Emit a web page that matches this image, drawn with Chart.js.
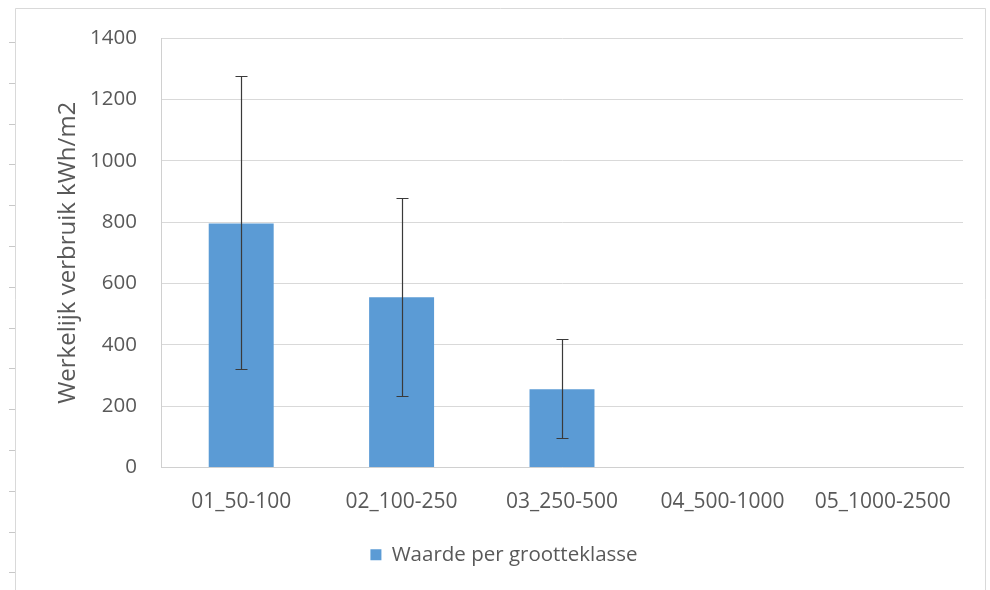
<!DOCTYPE html>
<html><head><meta charset="utf-8">
<script src="https://cdn.jsdelivr.net/npm/chart.js@4"></script>
<style>html,body{margin:0;padding:0;background:#fff}#wrap{width:990px;height:590px}</style>
</head><body><div id="wrap"><canvas id="c" width="990" height="590"></canvas></div>
<script>
const categories = ["01_50-100","02_100-250","03_250-500","04_500-1000","05_1000-2500"];
const values = [795, 555, 255, null, null];
const errLow = [320, 232, 95, null, null];
const errHigh = [1275, 878, 418, null, null];
const seriesLabel = "Waarde per grootteklasse";
const yTitle = "Werkelijk verbruik kWh/m2";

const FONT = "'Open Sans', 'Noto Sans', sans-serif";
const TXT = '#595959';

const framePlugin = {
  id: 'frame',
  beforeDraw(chart) {
    const ctx = chart.ctx;
    ctx.save();
    ctx.fillStyle = '#fff';
    ctx.fillRect(0, 0, chart.width, chart.height);
    ctx.strokeStyle = '#d9d9d9';
    ctx.lineWidth = 1;
    ctx.beginPath();
    ctx.moveTo(15.5, 590); ctx.lineTo(15.5, 8.5); ctx.lineTo(985.5, 8.5); ctx.lineTo(985.5, 590);
    ctx.stroke();
    ctx.strokeStyle = '#c8c8c8';
    ctx.beginPath();
    for (let y = 42; y < 590; y += 40.8) {
      ctx.moveTo(9, Math.round(y) + 0.5); ctx.lineTo(15, Math.round(y) + 0.5);
    }
    ctx.stroke();
    ctx.restore();
  }
};

const errorBarPlugin = {
  id: 'errbars',
  afterDatasetsDraw(chart) {
    const ctx = chart.ctx;
    const meta = chart.getDatasetMeta(0);
    const y = chart.scales.y;
    ctx.save();
    ctx.strokeStyle = '#3a3a3a';
    ctx.lineWidth = 1.2;
    meta.data.forEach((bar, i) => {
      if (errLow[i] == null || errHigh[i] == null) return;
      const x = Math.round(bar.x) + 0.5;
      const yl = Math.round(y.getPixelForValue(errLow[i])) + 0.5;
      const yh = Math.round(y.getPixelForValue(errHigh[i])) + 0.5;
      ctx.beginPath();
      ctx.moveTo(x, yl); ctx.lineTo(x, yh);
      ctx.moveTo(x - 6, yl); ctx.lineTo(x + 6, yl);
      ctx.moveTo(x - 6, yh); ctx.lineTo(x + 6, yh);
      ctx.stroke();
    });
    ctx.restore();
  }
};

new Chart(document.getElementById('c'), {
  type: 'bar',
  data: {
    labels: categories,
    datasets: [{
      label: seriesLabel,
      data: values,
      backgroundColor: '#5b9bd5',
      borderWidth: 0,
      categoryPercentage: 1.0,
      barPercentage: 0.405
    }]
  },
  options: {
    responsive: false,
    animation: false,
    devicePixelRatio: 1,
    layout: { padding: { left: 45, right: 27, top: 38, bottom: 15 } },
    plugins: {
      legend: {
        position: 'bottom',
        labels: {
          color: TXT,
          font: { family: FONT, size: 20.5 },
          boxWidth: 11, boxHeight: 11,
          padding: 10
        }
      },
      tooltip: { enabled: false }
    },
    scales: {
      x: {
        grid: { display: false, drawTicks: false },
        border: { color: '#d0d0d0' },
        ticks: { color: TXT, font: { family: FONT, size: 21 }, padding: 22, maxRotation: 0 },
        afterFit(s) { s.height = 67; }
      },
      y: {
        min: 0, max: 1400,
        ticks: { stepSize: 200, color: TXT, font: { family: FONT, size: 20.5 }, padding: 24,
                 callback: (v) => String(v) },
        grid: { color: '#d9d9d9', drawTicks: false },
        border: { display: true, color: '#d0d0d0' },
        title: { display: true, text: yTitle, color: TXT, font: { family: FONT, size: 24 }, padding: { top: 9, bottom: 0 } },
        afterFit(s) { s.width = 116; }
      }
    }
  },
  plugins: [framePlugin, errorBarPlugin]
});
</script></body></html>
